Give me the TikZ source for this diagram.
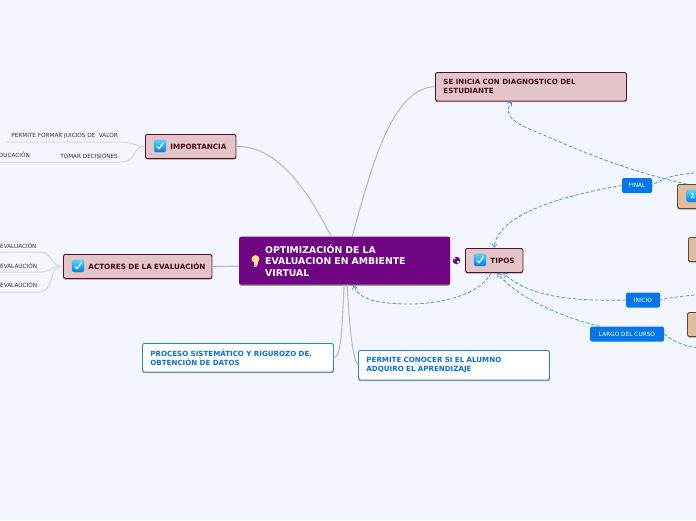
\documentclass[tikz,border=0pt]{standalone}
\usepackage{fontspec}
\setmainfont{DejaVu Sans}
\usepackage{xcolor}
\usetikzlibrary{arrows.meta,calc,shadows}
\definecolor{pagebg}{HTML}{F4F6FF}
\definecolor{rootfill}{HTML}{6F0583}
\definecolor{pinkfill}{HTML}{E4C5C9}
\definecolor{pinkline}{HTML}{5C0A1E}
\definecolor{tanfill}{HTML}{E0BD9F}
\definecolor{tanline}{HTML}{5B4A3A}
\definecolor{linkblue}{HTML}{4A9BE8}
\definecolor{tagblue}{HTML}{0277E6}
\definecolor{whiteline}{HTML}{2D82E0}
\definecolor{whitetext}{HTML}{0B6FD8}
\definecolor{branchgrey}{HTML}{B8BCC4}
\definecolor{leafgrey}{HTML}{D5D8E0}
\tikzset{
  softshadow/.style={drop shadow={shadow xshift=0pt,shadow yshift=-1.2pt,opacity=0.35,fill=black}},
  boxbase/.style={rectangle,rounded corners=2pt,anchor=north west,inner ysep=0pt,align=left,softshadow},
  rootbox/.style={boxbase,fill=rootfill,text=white,font=\bfseries\fontsize{9.3}{11.6}\selectfont,
    minimum width=211pt,minimum height=48pt,text width=159pt,inner xsep=26pt},
  pinkbox/.style 2 args={boxbase,fill=pinkfill,draw=pinkline,line width=0.9pt,text=pinkline!80!black,
    font=\bfseries\fontsize{7.2}{9}\selectfont,minimum height=24pt,text width=#1,inner xsep=0pt,
    execute at begin node={\hspace*{#2}}},
  widebox/.style={boxbase,fill=pinkfill,draw=pinkline,line width=0.9pt,text=pinkline!80!black,
    font=\bfseries\fontsize{7.1}{8.6}\selectfont,minimum height=28.5pt,text width=175pt,inner xsep=8pt},
  whitebox/.style={boxbase,fill=white,draw=whiteline,line width=0.9pt,text=whitetext,
    font=\bfseries\fontsize{7.1}{8.6}\selectfont,minimum height=28.5pt,text width=175pt,inner xsep=8pt},
  tanbox/.style={boxbase,fill=tanfill,draw=tanline,line width=0.9pt,minimum width=90pt,minimum height=24pt},
  tagbox/.style={rectangle,rounded corners=1.5pt,fill=tagblue,text=white,font=\fontsize{5.8}{7}\selectfont,
    inner sep=0pt,minimum height=15pt},
  leaftext/.style={font=\fontsize{5.7}{6.5}\selectfont,text=black!80,inner sep=0pt},
  branch/.style={draw=branchgrey,line width=1.1pt},
  leafline/.style={draw=leafgrey,line width=1pt},
  linkline/.style={draw=linkblue,line width=0.8pt,dash pattern=on 3.5pt off 2pt,-{Straight Barb[length=3.5pt,width=5pt]}},
  linkplain/.style={draw=linkblue,line width=0.8pt,dash pattern=on 3.5pt off 2pt},
  iconbox/.style={rectangle,rounded corners=1.5pt,minimum size=12pt,inner sep=0pt,
    top color=blue!20!cyan!70!white,bottom color=tagblue,draw=tagblue!70!white,line width=0.3pt},
  checkicon/.pic={
    \node[iconbox] (-b) at (0,0) {};
    \draw[white,line width=1.3pt,line cap=round,line join=round] (-3,0.5) -- (-1,2.8) -- (3.2,-3);
  }
}
\begin{document}
\begin{tikzpicture}[x=1pt,y=-1pt,>=Stealth,line join=round]
  \useasboundingbox (0,0) rectangle (696,520);
  \fill[pagebg] (0,0) rectangle (696,520);
  \clip (0,0) rectangle (696,520);
  % boxes
  \node[rootbox] (root) at (239,236.5) {OPTIMIZACIÓN DE LA\\EVALUACION EN AMBIENTE\\VIRTUAL};
  \node[pinkbox={90.5pt}{25pt}] (importancia) at (145,134) {IMPORTANCIA};
  \node[pinkbox={148.5pt}{25pt}] (actores) at (63,254) {ACTORES DE LA EVALUACIÓN};
  \node[pinkbox={57.5pt}{25pt}] (tipos) at (465,248) {TIPOS};
  \node[widebox] (diagnostico) at (435,72) {SE INICIA CON DIAGNOSTICO DEL\\ESTUDIANTE};
  \node[whitebox] (proceso) at (142,343) {PROCESO SISTEMÁTICO Y RIGUROZO DE.\\OBTENCIÓN DE DATOS};
  \node[whitebox,minimum height=29.5pt] (conocer) at (358,350) {PERMITE CONOCER SI EL ALUMNO\\ADQUIRO EL APRENDIZAJE};
  \node[tanbox] (tanone) at (677,184) {};
  \node[tanbox] (tantwo) at (688,237) {};
  \node[tanbox] (tanthree) at (687,312) {};
  % tags
  \node[tagbox,minimum width=30pt] (final) at (637,185.5) {FINAL};
  \node[tagbox,minimum width=34pt] (inicio) at (643,300) {INICIO};
  \node[tagbox,minimum width=74pt] (largo) at (627,334) {LARGO DEL CURSO};
  % off-page ends
  \coordinate (finalend) at (700,172.5);
  \coordinate (inicioend) at (700,294.5);
  \coordinate (largoend) at (700,348);
  % grey branches
  \draw[branch] ([xshift=-13.5pt]root.north) .. controls (310,195) and (280,146) .. (importancia.east);
  \draw[branch] ([xshift=7.5pt]root.north) .. controls (372,165) and (392,88) .. (diagnostico.west);
  \draw[branch] ([yshift=-5.5pt]root.west) -- (actores.east);
  \draw[branch] ([xshift=-0.5pt]root.south) .. controls (342,320) and (342,358) .. (proceso.east);
  \draw[branch] ([xshift=2.5pt]root.south) .. controls (349,320) and (352,358) .. (conocer.west);
  % dashed links
  \draw[linkline] (final.west) .. controls (560,196) and (497,215) .. (tipos.north);
  \draw[linkplain] (finalend) .. controls (680,174) and (665,176) .. (final.east);
  \draw[linkline] ([xshift=10pt]tanone.north west) .. controls (620,170) and (560,142) .. (525,127)
    .. controls (510,120) and (504,112) .. ([xshift=-19pt]diagnostico.south);
  \draw[linkline] (inicio.west) .. controls (575,301) and (530,298) .. ([xshift=9pt]tipos.south);
  \draw[linkplain] (inicioend) .. controls (685,296) and (672,297) .. (inicio.east);
  \draw[linkline] ([xshift=-27pt]largo.north) .. controls (565,318) and (520,300) .. ([xshift=3pt]tipos.south);
  \draw[linkplain] (largo.east) .. controls (675,343) and (688,347) .. (largoend);
  \draw[linkline] ([xshift=-3pt]tipos.south) .. controls (480,295) and (440,304) .. (410,304)
    .. controls (380,304) and (358,300) .. ([xshift=9pt]root.south);
  % leaves of importancia
  \node[leaftext,anchor=east] (formar) at (118,136) {PERMITE FORMAR JUICIOS DE\ \ VALOR};
  \node[leaftext,anchor=east] (decisiones) at (118,156) {TOMAR DECISIONES};
  \node[leaftext,anchor=east] (educacion) at (30,155) {EDUCACIÓN};
  \coordinate (formarend) at (7,142);
  \coordinate (formarbend) at (122,142);
  \coordinate (decisionesend) at (0,162);
  \coordinate (decisionesbend) at (122,162);
  \draw[leafline] (formarend) -- (formarbend) .. controls (132,142) and (135,146) .. (importancia.west);
  \draw[leafline] (decisionesend) -- (decisionesbend) .. controls (136,162) and (132,146) .. (importancia.west);
  % leaves of actores
  \node[leaftext,anchor=west] (evalone) at (0,246) {EVALUACIÓN};
  \node[leaftext,anchor=west] (evaltwo) at (0,266) {EVALAUCIÓN};
  \node[leaftext,anchor=west] (evalthree) at (0,285) {EVALAUCIÓN};
  \coordinate (evalonebend) at (40,252);
  \coordinate (evaltwobend) at (40,272);
  \coordinate (evalthreebend) at (40,292);
  \draw[leafline] (0,252) -- (evalonebend) .. controls (52,252) and (50,266) .. (actores.west);
  \draw[leafline] (0,272) -- (evaltwobend) .. controls (52,272) and (50,266) .. (actores.west);
  \draw[leafline] (0,292) -- (evalthreebend) .. controls (54,292) and (48,266) .. (actores.west);
  % icons
  \pic (iconimp) at (160,146) {checkicon};
  \pic (iconact) at (78,266) {checkicon};
  \pic (icontip) at (480,260) {checkicon};
  \node[iconbox,text=white,font=\bfseries\fontsize{7}{7}\selectfont] (iconone) at (692.5,196) {1};
  % light bulb
  \fill[yellow!55!orange!45!white] (255.5,259) circle (3.9pt);
  \fill[yellow!55!orange!45!white] (253.5,262) rectangle (257.5,265);
  \fill[black!25] (254,265) rectangle (257,267);
  % globe
  \node[circle,fill=rootfill,minimum size=7.5pt,inner sep=0pt] (globe) at (456.5,260.5) {};
  \fill[white] (454.5,258.5) circle (1.1pt) (458,262) circle (1.3pt);
\end{tikzpicture}
\end{document}
